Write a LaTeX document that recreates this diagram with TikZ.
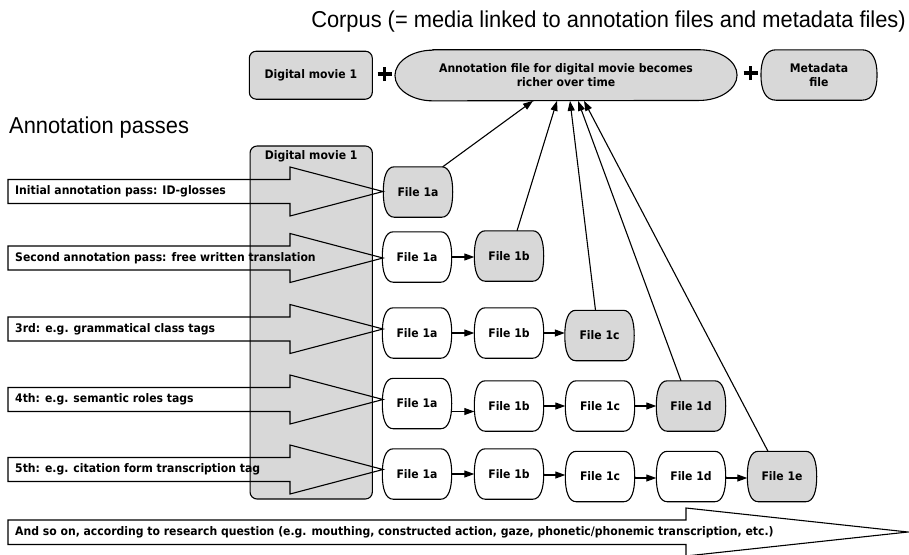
\documentclass[tikz,border=0pt]{standalone}
\usepackage{fontspec}
\setmainfont{Liberation Sans}
\newfontfamily\boxfont[FakeStretch=0.92]{DejaVu Sans}
\newfontfamily\titlefont[FakeStretch=0.95]{Liberation Sans}
\usetikzlibrary{arrows.meta,calc,backgrounds}
\definecolor{boxgray}{HTML}{D8D8D8}
\tikzset{
  bfont/.style={font=\boxfont\bfseries\fontsize{11.8}{14}\selectfont},
  fnode/.style={rectangle, minimum width=69pt, minimum height=50pt, inner sep=0pt, bfont},
  conn/.style={line width=1.1pt, -{Triangle[length=10pt,width=7pt]}},
  barrow/.style={line width=1.1pt, draw=black, line join=miter},
  plusline/.style={line width=3.6pt, line cap=butt},
  rowlabel/.style={anchor=west, bfont, inner sep=0pt},
  titletext/.style={font=\titlefont\fontsize{23}{27}\selectfont, inner sep=0pt},
}
\newcommand\bulgeshape[3]{%
  \path[draw=black, line width=1.1pt, fill=#2]
    ([xshift=#3]#1.north west) -- ([xshift=-#3]#1.north east)
    .. controls ([xshift=-0.3*#3]#1.north east) and ($(#1.east)!0.6!(#1.north east)$) .. (#1.east)
    .. controls ($(#1.east)!0.6!(#1.south east)$) and ([xshift=-0.3*#3]#1.south east) .. ([xshift=-#3]#1.south east)
    -- ([xshift=#3]#1.south west)
    .. controls ([xshift=0.3*#3]#1.south west) and ($(#1.west)!0.6!(#1.south west)$) .. (#1.west)
    .. controls ($(#1.west)!0.6!(#1.north west)$) and ([xshift=0.3*#3]#1.north west) .. cycle;}
\newcommand\plusmark[1]{%
  \draw[plusline] ([xshift=-7pt]#1.center) -- ([xshift=7pt]#1.center);
  \draw[plusline] ([yshift=-7pt]#1.center) -- ([yshift=7pt]#1.center);}
\begin{document}
\begin{tikzpicture}[x=1pt,y=-1pt]
\useasboundingbox (0,0) rectangle (909,554);

% titles
\node[titletext, anchor=east] (title) at (906,22) {Corpus (= media linked to annotation files and metadata files)};
\node[titletext, anchor=west] (passes) at (9,128) {Annotation passes};

% top row
\node[draw, line width=1.1pt, fill=boxgray, rounded corners=7pt, minimum width=123pt, minimum height=48pt, bfont] (dmtop) at (310.8,75.2) {Digital movie 1};
\coordinate (plus1) at (384.5,74);
\plusmark{plus1}
\node[rectangle, minimum width=341.7pt, minimum height=50.7pt, inner sep=0pt, bfont, align=center] (ann) at (566,75.3) {};
\coordinate (plus2) at (750.5,73);
\plusmark{plus2}
\node[rectangle, minimum width=115.7pt, minimum height=50pt, inner sep=0pt, bfont, align=center] (meta) at (819,75) {};
\begin{pgfonlayer}{background}
  \path[draw=black, line width=1.1pt, fill=boxgray]
    ([xshift=38pt]ann.north west) -- ([xshift=-38pt]ann.north east)
    arc[start angle=90, end angle=-90, x radius=38pt, y radius=25.35pt]
    -- ([xshift=38pt]ann.south west)
    arc[start angle=270, end angle=90, x radius=38pt, y radius=25.35pt] -- cycle;
  \bulgeshape{meta}{boxgray}{15pt}
\end{pgfonlayer}
\node[bfont, align=center] (anntext) at (ann) {Annotation file for digital movie becomes\\richer over time};
\node[bfont, align=center] (metatext) at (meta) {Metadata\\file};

% tall movie box
\node[draw, line width=1.1pt, fill=boxgray, rounded corners=7pt, minimum width=122.3pt, minimum height=353pt, inner sep=0pt] (dmtall) at (311.2,322.5) {};
\node[bfont, anchor=north] (dmlabel) at ([yshift=-2pt]dmtall.north) {Digital movie 1};

% block arrows of the passes
\foreach \yy/\lab in {191.5/{Initial annotation pass: ID-glosses},
                      258/{Second annotation pass: free written translation},
                      329/{3rd: e.g. grammatical class tags},
                      399.5/{4th: e.g. semantic roles tags},
                      469.5/{5th: e.g. citation form transcription tag}}{
  \draw[barrow] (8,\yy-12) -- (290,\yy-12) -- (290,\yy-24.5) -- (383,\yy)
     -- (290,\yy+24.5) -- (290,\yy+12) -- (8,\yy+12) -- cycle;
  \node[rowlabel] at (15,\yy) {\lab};
}

% bottom arrow
\draw[barrow] (8,520) -- (686,520) -- (686,508) -- (908,532) -- (686,556)
   -- (686,544.5) -- (8,544.5) -- cycle;
\node[rowlabel] (andso) at (15,532) {And so on, according to research question (e.g. mouthing, constructed action, gaze, phonetic/phonemic transcription, etc.)};

% file nodes
\node[fnode] (r1a) at (418,192) {File 1a};
\node[fnode] (r2a) at (417,257) {File 1a};
\node[fnode] (r2b) at (509,256) {File 1b};
\node[fnode] (r3a) at (417,333) {File 1a};
\node[fnode] (r3b) at (509,333) {File 1b};
\node[fnode] (r3c) at (599.5,335.5) {File 1c};
\node[fnode] (r4a) at (417,403.5) {File 1a};
\node[fnode] (r4b) at (509,406) {File 1b};
\node[fnode] (r4c) at (600,406) {File 1c};
\node[fnode] (r4d) at (691,406) {File 1d};
\node[fnode] (r5a) at (417,474) {File 1a};
\node[fnode] (r5b) at (509,474) {File 1b};
\node[fnode] (r5c) at (600,476.5) {File 1c};
\node[fnode] (r5d) at (691,476.5) {File 1d};
\node[fnode] (r5e) at (782,476.5) {File 1e};
\begin{pgfonlayer}{background}
  \foreach \n/\f in {r1a/boxgray, r2a/white, r2b/boxgray, r3a/white, r3b/white, r3c/boxgray,
                     r4a/white, r4b/white, r4c/white, r4d/boxgray,
                     r5a/white, r5b/white, r5c/white, r5d/white, r5e/boxgray}{
    \bulgeshape{\n}{\f}{11pt}
  }
\end{pgfonlayer}

% connectors in rows
\draw[conn] (r2a.east) -- (r2a.east -| r2b.west);
\draw[conn] (r3a.east) -- (r3a.east -| r3b.west);
\draw[conn] (r3b.east) -- (r3b.east -| r3c.west);
\draw[conn] ([yshift=-8pt]r4a.east) -- ([yshift=-8pt]r4a.east -| r4b.west);
\draw[conn] (r4b.east) -- (r4b.east -| r4c.west);
\draw[conn] (r4c.east) -- (r4c.east -| r4d.west);
\draw[conn] (r5a.east) -- (r5a.east -| r5b.west);
\draw[conn] ([yshift=-1pt]r5b.east) -- ([yshift=-1pt]r5b.east -| r5c.west);
\draw[conn] ([yshift=-1.5pt]r5c.east) -- ([yshift=-1.5pt]r5c.east -| r5d.west);
\draw[conn] ([yshift=-1.5pt]r5d.east) -- ([yshift=-1.5pt]r5d.east -| r5e.west);

% connectors to the annotation file
\draw[conn] ([xshift=-10pt]r1a.north east) -- ([xshift=-33pt]ann.south);
\draw[conn] ([xshift=8pt]r2b.north) -- ([xshift=-9pt]ann.south);
\draw[conn] ([xshift=-4pt]r3c.north) -- ([xshift=4pt]ann.south);
\draw[conn] ([xshift=-10pt]r4d.north) -- ([xshift=12pt]ann.south);
\draw[conn] ([xshift=-14pt]r5e.north) -- ([xshift=18pt]ann.south);
\end{tikzpicture}
\end{document}
